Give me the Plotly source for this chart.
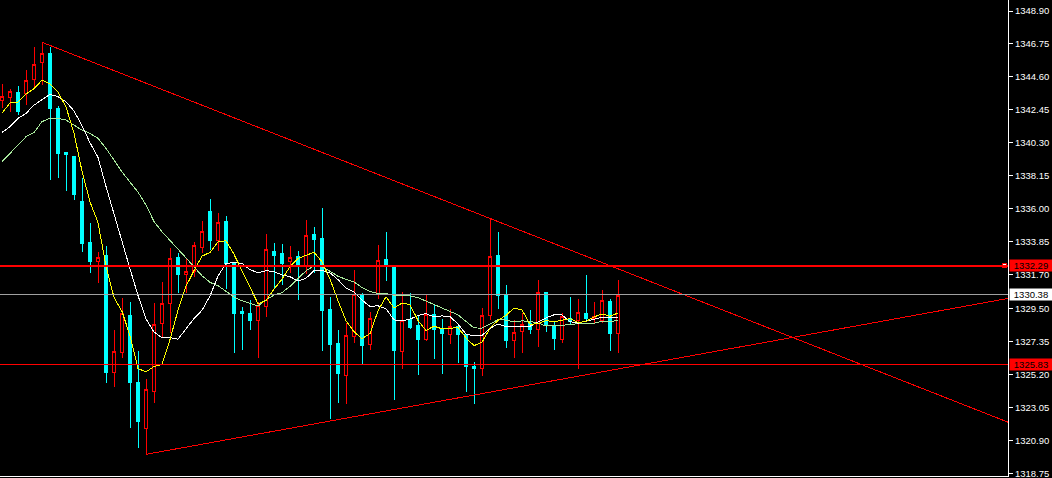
import plotly.graph_objects as go

# ---- OHLC data (bar index 0..77) ----
open_ = [1343.07, 1343.24, 1343.60, 1343.51, 1344.45, 1345.53, 1346.10, 1342.57, 1339.64, 1339.44,
         1336.49, 1333.77, 1332.55, 1332.92, 1325.31, 1326.64, 1329.07, 1324.65, 1321.65, 1324.09,
         1328.53, 1329.83, 1332.83, 1331.72, 1331.89, 1333.49, 1335.85, 1333.92, 1335.14, 1332.48,
         1329.27, 1329.20, 1328.70, 1329.61, 1333.24, 1333.05, 1332.55, 1332.87, 1332.27, 1334.29,
         1334.09, 1329.40, 1327.22, 1325.14, 1327.65, 1330.42, 1327.16, 1330.44, 1332.70, 1332.20,
         1326.70, 1328.79, 1328.37, 1327.50, 1329.12, 1328.14, 1327.81, 1328.35, 1327.77, 1325.70,
         1325.58, 1329.05, 1332.98, 1330.44, 1327.42, 1328.01, 1328.53, 1328.14, 1330.51, 1328.37,
         1327.48, 1328.83, 1328.74, 1329.18, 1328.83, 1328.74, 1329.92, 1327.88]
high = [1344.12, 1343.79, 1344.01, 1345.05, 1346.53, 1346.86, 1346.57, 1342.70, 1339.64, 1339.44,
        1337.99, 1335.07, 1333.18, 1333.57, 1328.09, 1330.18, 1329.90, 1326.70, 1324.88, 1329.83,
        1331.22, 1333.42, 1333.13, 1332.77, 1333.85, 1335.20, 1336.62, 1335.70, 1335.53, 1332.48,
        1329.59, 1330.05, 1329.94, 1334.37, 1333.79, 1333.70, 1333.57, 1333.26, 1335.27, 1334.83,
        1336.05, 1330.26, 1328.09, 1328.53, 1332.01, 1330.49, 1329.27, 1333.64, 1334.48, 1332.20,
        1330.57, 1330.49, 1329.07, 1330.42, 1329.77, 1328.81, 1329.46, 1328.35, 1327.77, 1325.98,
        1329.53, 1335.38, 1334.48, 1331.01, 1328.74, 1329.18, 1329.40, 1331.35, 1330.59, 1328.59,
        1329.18, 1330.22, 1330.09, 1331.68, 1329.92, 1330.70, 1330.09, 1331.35]
low = [1342.55, 1342.29, 1342.12, 1342.77, 1343.86, 1344.07, 1337.88, 1338.03, 1337.16, 1336.59,
       1333.18, 1331.83, 1331.18, 1324.65, 1324.39, 1326.25, 1321.72, 1320.41, 1319.98, 1323.31,
       1327.65, 1327.88, 1330.52, 1330.52, 1331.57, 1333.13, 1333.31, 1333.24, 1330.75, 1326.61,
       1326.79, 1328.09, 1326.28, 1328.92, 1330.83, 1331.05, 1331.79, 1330.05, 1331.74, 1331.79,
       1326.74, 1322.29, 1323.35, 1323.28, 1327.22, 1325.87, 1326.81, 1330.13, 1331.31, 1323.53,
       1325.53, 1328.14, 1325.18, 1327.39, 1326.22, 1325.24, 1327.20, 1325.96, 1324.07, 1323.28,
       1325.12, 1328.74, 1329.46, 1326.90, 1326.28, 1326.61, 1327.83, 1327.00, 1327.98, 1326.79,
       1327.22, 1328.42, 1325.53, 1328.66, 1328.57, 1328.57, 1326.74, 1326.57]
close = [1343.34, 1343.68, 1342.33, 1344.38, 1345.42, 1346.14, 1342.53, 1339.59, 1339.53, 1336.90,
         1333.72, 1332.53, 1332.83, 1325.31, 1326.70, 1329.14, 1324.65, 1322.11, 1324.18, 1328.46,
         1329.83, 1332.77, 1331.68, 1331.94, 1333.62, 1334.53, 1333.96, 1335.12, 1332.40, 1329.15,
         1329.14, 1328.70, 1329.66, 1333.36, 1332.94, 1332.40, 1332.83, 1332.29, 1334.27, 1334.01,
         1329.35, 1327.13, 1325.24, 1327.75, 1330.42, 1327.07, 1328.81, 1332.64, 1332.35, 1326.74,
         1328.72, 1328.24, 1327.48, 1329.12, 1328.14, 1327.88, 1328.35, 1327.78, 1325.74, 1325.57,
         1329.05, 1332.90, 1330.33, 1327.39, 1327.94, 1328.48, 1328.14, 1330.55, 1328.42, 1327.55,
         1328.96, 1328.66, 1329.25, 1328.83, 1328.96, 1330.03, 1327.85, 1330.33]

# ---- moving averages ----
ma_fast = [1342.25, 1342.90, 1342.96, 1343.48, 1343.83, 1344.39, 1344.15, 1343.61, 1342.64, 1340.93,
           1338.45, 1336.45, 1335.10, 1332.26, 1330.22, 1329.30, 1327.73, 1325.58, 1325.36, 1325.71,
           1325.85, 1327.47, 1329.38, 1330.94, 1331.97, 1332.91, 1333.15, 1333.83, 1333.92, 1333.03,
           1331.95, 1330.90, 1329.81, 1330.00, 1330.76, 1331.41, 1332.23, 1332.76, 1332.95, 1333.16,
           1332.55, 1331.41, 1330.00, 1328.70, 1327.98, 1327.53, 1327.86, 1329.34, 1330.26, 1329.52,
           1329.85, 1329.74, 1328.71, 1328.06, 1328.34, 1328.17, 1328.20, 1328.26, 1327.58, 1327.07,
           1327.30, 1328.21, 1328.72, 1329.05, 1329.52, 1329.41, 1328.46, 1328.50, 1328.71, 1328.63,
           1328.73, 1328.83, 1328.57, 1328.65, 1328.94, 1329.14, 1328.99, 1329.20]
ma_mid = [1340.98, 1341.35, 1341.90, 1342.22, 1342.76, 1343.09, 1343.46, 1343.31, 1342.98, 1342.38,
          1341.42, 1340.31, 1339.35, 1337.45, 1335.58, 1333.88, 1332.09, 1330.34, 1328.81, 1327.96,
          1327.58, 1327.60, 1327.49, 1328.15, 1328.84, 1329.38, 1330.31, 1331.61, 1332.43, 1332.50,
          1332.43, 1332.03, 1331.82, 1331.96, 1331.90, 1331.68, 1331.57, 1331.29, 1331.47, 1331.96,
          1331.98, 1331.82, 1331.38, 1330.82, 1330.57, 1330.04, 1329.63, 1329.67, 1329.48, 1328.75,
          1328.69, 1328.80, 1329.03, 1329.16, 1328.94, 1329.01, 1328.97, 1328.48, 1327.82, 1327.70,
          1327.73, 1328.20, 1328.48, 1328.31, 1328.30, 1328.35, 1328.33, 1328.61, 1328.88, 1329.08,
          1329.07, 1328.64, 1328.54, 1328.68, 1328.78, 1328.94, 1328.91, 1328.88]
ma_slow = [1339.07, 1339.61, 1340.16, 1340.70, 1340.98, 1341.68, 1341.90, 1341.90, 1341.79, 1341.46,
           1341.13, 1340.92, 1340.59, 1339.94, 1339.18, 1338.41, 1337.74, 1337.09, 1336.24, 1335.17,
           1334.50, 1333.95, 1333.42, 1332.80, 1332.21, 1331.63, 1331.20, 1330.98, 1330.62, 1330.23,
           1330.00, 1329.82, 1329.65, 1330.06, 1330.37, 1330.53, 1330.94, 1331.45, 1331.95, 1332.27,
           1332.21, 1331.92, 1331.60, 1331.39, 1331.23, 1330.86, 1330.60, 1330.48, 1330.47, 1330.36,
           1330.34, 1330.31, 1330.20, 1329.99, 1329.75, 1329.53, 1329.30, 1329.08, 1328.65, 1328.23,
           1328.21, 1328.50, 1328.76, 1328.74, 1328.62, 1328.69, 1328.65, 1328.55, 1328.35, 1328.39,
           1328.40, 1328.43, 1328.51, 1328.50, 1328.54, 1328.65, 1328.62, 1328.75]

# ---- horizontal levels and trend lines ----
level_resist = 1332.29
level_bid = 1330.38
level_support = 1325.83
trend_down_bars = [5, 125.75]
trend_down_prices = [1346.86, 1322.08]
trend_up_bars = [18, 125.75]
trend_up_prices = [1319.98, 1330.15]

y_ticks = [1348.90, 1346.75, 1344.60, 1342.45, 1340.30, 1338.15, 1336.00, 1333.85,
           1331.70, 1329.50, 1327.35, 1325.20, 1323.05, 1320.90, 1318.75]
y_tick_text = ["%.2f" % v for v in y_ticks]

bars = list(range(len(close)))
X_MAX = 125.75

fig = go.Figure()

fig.add_trace(go.Candlestick(
    x=bars, open=open_, high=high, low=low, close=close,
    increasing=dict(line=dict(color="#ff0000", width=1), fillcolor="#000000"),
    decreasing=dict(line=dict(color="#00ffff", width=1), fillcolor="#00ffff"),
    whiskerwidth=0, showlegend=False, hoverinfo="skip",
))

for ma, col in [(ma_slow, "#a8e89c"), (ma_mid, "#ffffff"), (ma_fast, "#ffff00")]:
    fig.add_trace(go.Scatter(x=bars, y=ma, mode="lines",
                             line=dict(color=col, width=1), showlegend=False, hoverinfo="skip"))

# horizontal price lines
for lvl, col, w in [(level_resist, "#ff0000", 2), (level_bid, "#a0a0a0", 1),
                    (level_support, "#ff0000", 1)]:
    fig.add_shape(type="line", xref="paper", x0=0, x1=1, yref="y", y0=lvl, y1=lvl,
                  line=dict(color=col, width=w))

# trend lines
fig.add_trace(go.Scatter(x=trend_down_bars, y=trend_down_prices, mode="lines",
                         line=dict(color="#ff0000", width=1), showlegend=False, hoverinfo="skip"))
fig.add_trace(go.Scatter(x=trend_up_bars, y=trend_up_prices, mode="lines",
                         line=dict(color="#ff0000", width=1), showlegend=False, hoverinfo="skip"))

# small alert marker on resistance line
fig.add_trace(go.Scatter(x=[X_MAX - 0.4], y=[level_resist], mode="markers",
                         marker=dict(symbol="square", size=4, color="#ffffff",
                                     line=dict(color="#ff0000", width=1)),
                         showlegend=False, hoverinfo="skip", cliponaxis=False))

# price labels on the axis
for lvl, bg in [(level_resist, "#ff0000"), (level_bid, "#ffffff"), (level_support, "#ff0000")]:
    fig.add_annotation(xref="paper", x=1, xanchor="left", xshift=1, yref="y", y=lvl,
                       text="%.2f" % lvl, showarrow=False, bgcolor=bg, width=42, height=11,
                       borderpad=0, align="center",
                       font=dict(family="Liberation Sans, Arial", size=9.5, color="#000000"))

fig.update_layout(
    width=1052, height=478,
    margin=dict(l=0, r=44, t=0, b=2),
    paper_bgcolor="#000000", plot_bgcolor="#000000",
    boxgap=0.35,
    xaxis=dict(range=[-0.25, X_MAX], showgrid=False, zeroline=False, showticklabels=False,
               showline=True, linecolor="#ffffff", linewidth=1, rangeslider=dict(visible=False),
               fixedrange=True),
    yaxis=dict(range=[1318.568, 1349.6175], side="right", showgrid=False, zeroline=False,
               tickmode="array", tickvals=y_ticks, ticktext=y_tick_text,
               ticks="outside", ticklen=4, tickcolor="#ffffff", ticklabeloverflow="allow",
               showline=True, linecolor="#ffffff", linewidth=1,
               tickfont=dict(family="Liberation Sans, Arial", size=9.5, color="#ffffff")),
)

post = (
    "document.body.style.margin='0';document.body.style.background='#000';"
    "var st=document.createElement('style');"
    "st.textContent='.main-svg path{shape-rendering:crispEdges !important;}';"
    "document.head.appendChild(st);"
)
fig.write_html("out.html", config={"displayModeBar": False}, post_script=post)
